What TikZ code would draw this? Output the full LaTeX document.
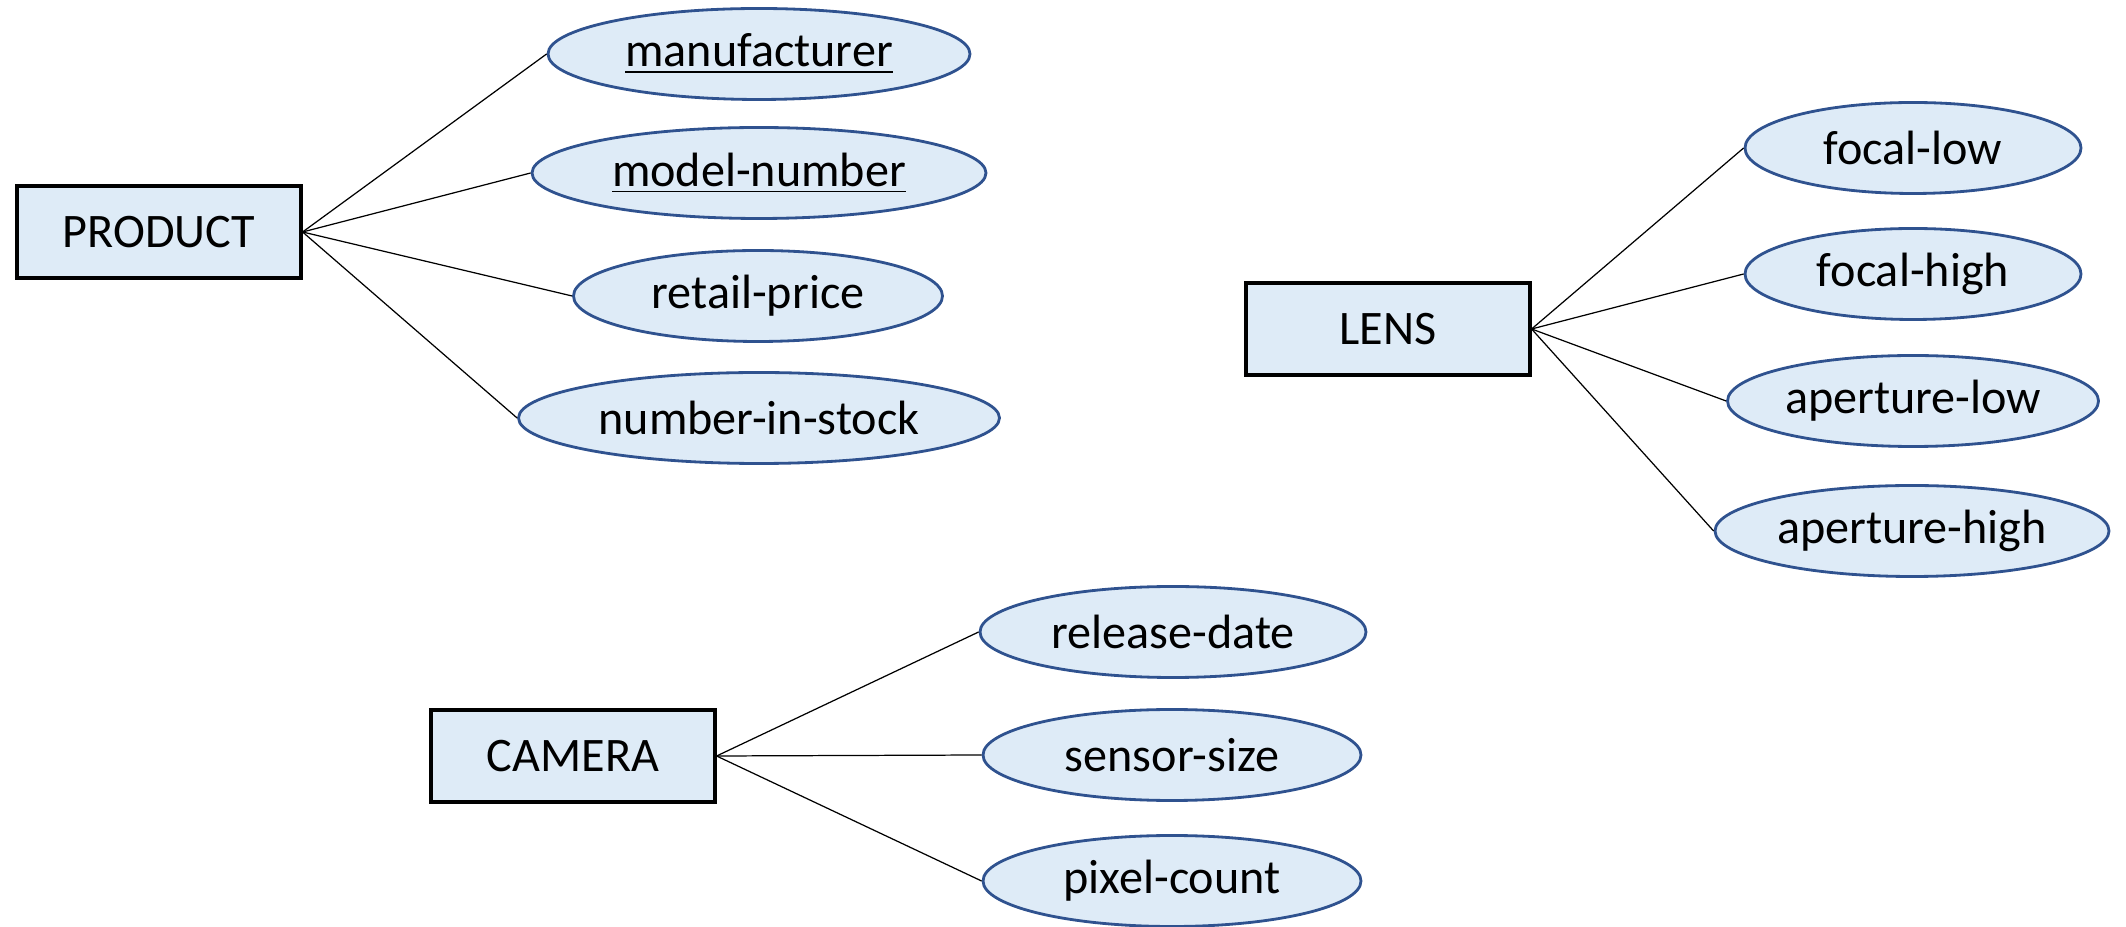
\documentclass[tikz,border=0pt]{standalone}
\usepackage{fontspec}
\setmainfont{Carlito}
\usetikzlibrary{shapes.geometric}
\definecolor{attrfill}{RGB}{222,235,247}
\definecolor{attrline}{RGB}{47,82,143}
\tikzset{
  entity/.style={draw=black, line width=0.9pt, fill=attrfill, rectangle,
    minimum width=28.4mm, minimum height=9.2mm, inner sep=0pt,
    font=\fontsize{13.7}{16}\selectfont},
  attr/.style={draw=attrline, line width=0.8pt, fill=attrfill, ellipse,
    minimum height=9.1mm, inner sep=0pt, font=\fontsize{13.7}{16}\selectfont},
  link/.style={draw=black, line width=0.35pt}
}
\begin{document}
\begin{tikzpicture}[x=0.1mm, y=-0.1mm]
\useasboundingbox (0,0) rectangle (2126,927);
% product
\node [entity] (product) at (159,232) {PRODUCT};
\node [attr, minimum width=42.2mm] (manuf) at (759,54) {\underline{manufacturer}};
\node [attr, minimum width=45.4mm] (model) at (759,173) {\underline{model-number}};
\node [attr, minimum width=36.9mm] (price) at (758,296) {retail-price};
\node [attr, minimum width=48.1mm] (stock) at (759,418) {number-in-stock};
\draw [link] (product.east) -- (manuf.west);
\draw [link] (product.east) -- (model.west);
\draw [link] (product.east) -- (price.west);
\draw [link] (product.east) -- (stock.west);
% lens
\node [entity] (lens) at (1388,329) {LENS};
\node [attr, minimum width=33.6mm] (flow) at (1913,148) {focal-low};
\node [attr, minimum width=33.6mm] (fhigh) at (1913,274) {focal-high};
\node [attr, minimum width=37.1mm] (alow) at (1913,401) {aperture-low};
\node [attr, minimum width=39.4mm] (ahigh) at (1912,531) {aperture-high};
\draw [link] (lens.east) -- (flow.west);
\draw [link] (lens.east) -- (fhigh.west);
\draw [link] (lens.east) -- (alow.west);
\draw [link] (lens.east) -- (ahigh.west);
% camera
\node [entity] (camera) at (573,756) {CAMERA};
\node [attr, minimum width=38.6mm] (rdate) at (1173,632) {release-date};
\node [attr, minimum width=37.8mm] (ssize) at (1172,755) {sensor-size};
\node [attr, minimum width=37.8mm] (pcount) at (1172,881) {pixel-count};
\draw [link] (camera.east) -- (rdate.west);
\draw [link] (camera.east) -- (ssize.west);
\draw [link] (camera.east) -- (pcount.west);
\end{tikzpicture}
\end{document}
